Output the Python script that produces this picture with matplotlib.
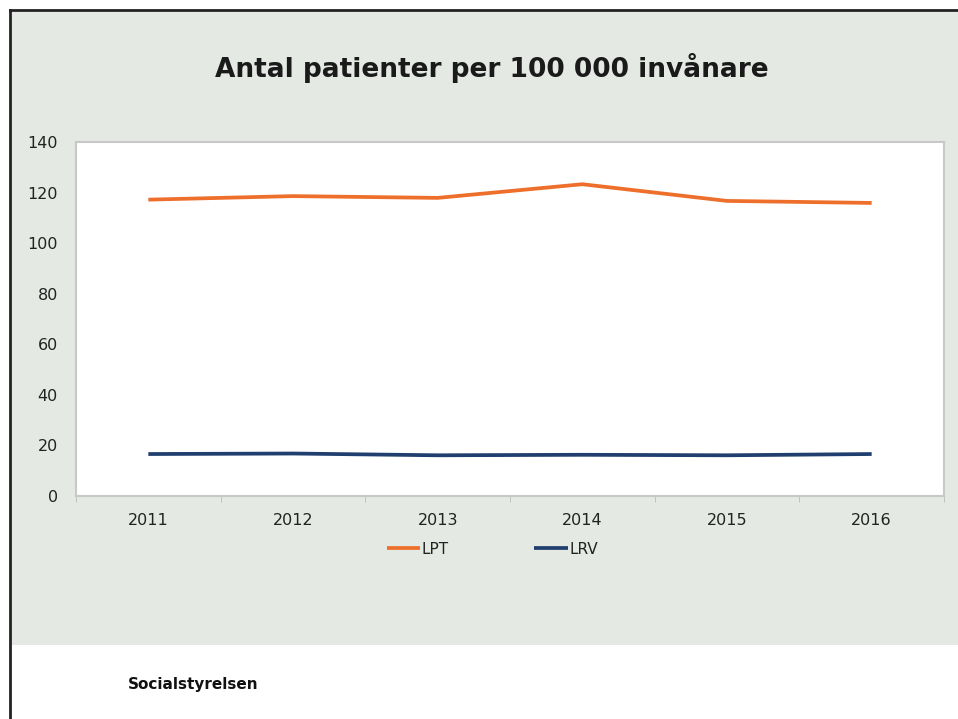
import numpy as np
import matplotlib.pyplot as plt
from matplotlib.patches import Rectangle
from matplotlib.lines import Line2D

# data
years = ['2011', '2012', '2013', '2014', '2015', '2016']
lpt = [117.2, 118.6, 117.9, 123.3, 116.7, 115.9]
lrv = [16.6, 16.8, 16.1, 16.3, 16.1, 16.6]
y_ticks = [0, 20, 40, 60, 80, 100, 120, 140]

W, H = 958, 719
fig = plt.figure(figsize=(W / 100, H / 100), dpi=100)
fig.patch.set_facecolor('white')

# grey slide background with black frame at top and left
bg = Rectangle((12 / W, 1 - 645 / H), 1 - 12 / W, (645 - 12) / H,
               transform=fig.transFigure, facecolor='#e4e9e4', edgecolor='none', zorder=-5)
fig.patches.append(bg)
fig.add_artist(Line2D([10 / W, 10 / W], [0, 1 - 10 / H], transform=fig.transFigure,
                      color='#222222', lw=2))
fig.add_artist(Line2D([10 / W, 1], [1 - 10 / H, 1 - 10 / H], transform=fig.transFigure,
                      color='#222222', lw=2))

left, right, top, bottom = 76, 944, 142, 496
ax = fig.add_axes([left / W, 1 - bottom / H, (right - left) / W, (bottom - top) / H])
ax.set_zorder(5)
ax.set_facecolor('white')

x = np.arange(len(years))
ax.plot(x, lpt, color='#ed6f2b', lw=2.7, label='LPT', solid_capstyle='butt')
ax.plot(x, lrv, color='#203f6e', lw=2.7, label='LRV', solid_capstyle='butt')

ax.set_xlim(-0.5, len(years) - 0.5)
ax.set_ylim(0, 140)
ax.set_yticks(y_ticks)
ax.set_xticks(x)
ax.set_xticklabels(years)
ax.set_xticks(np.arange(len(years) + 1) - 0.5, minor=True)
ax.tick_params(axis='x', which='major', length=0, pad=12, labelsize=11.5, colors='#222222')
ax.tick_params(axis='x', which='minor', length=4, color='#bbbbbb')
ax.tick_params(axis='y', length=0, pad=13, labelsize=11.5, colors='#222222')
for s in ax.spines.values():
    s.set_color('#c8c8c8')
    s.set_linewidth(1.5)

fig.text(492 / W, 1 - 68 / H, 'Antal patienter per 100 000 invånare', ha='center', va='center',
         fontsize=19, fontweight='bold', color='#1a1a1a')

leg = fig.legend(handles=ax.get_lines(), loc='center', bbox_to_anchor=(0.514, 1 - 549 / H),
                 ncol=2, frameon=False, fontsize=11, handlelength=2.2, handletextpad=0.1,
                 columnspacing=5.6)
for t in leg.get_texts():
    t.set_color('#222222')

fig.text(128 / W, 1 - 684 / H, 'Socialstyrelsen', ha='left', va='center',
         fontsize=11, fontweight='bold', color='#111111')

fig.savefig('out.png', dpi=100)
